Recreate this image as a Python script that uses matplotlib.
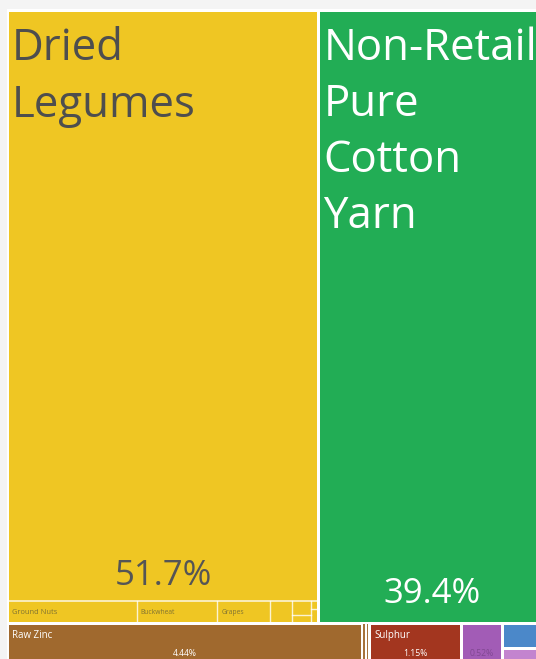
import matplotlib.pyplot as plt
from matplotlib.patches import Rectangle

# shares of total exports (%)
legumes_share = 51.7
yarn_share = 39.4

minor_names = ["Ground Nuts", "Buckwheat", "Grapes", "", "", ""]
minor_shares = [0.83, 0.52, 0.34, 0.14, 0.12, 0.05]
minor_splits = {4: [0.08, 0.04], 5: [0.02, 0.03]}

bottom_names = ["Raw Zinc", "", "", "Sulphur", "", ""]
bottom_shares = [4.44, 0.044, 0.044, 1.15, 0.52, 0.55]
bottom_labels = ["4.44%", "", "", "1.15%", "0.52%", ""]
bottom_splits = {5: [0.31, 0.24]}
bottom_colors = ["#a0692e", "#a6733c", "#a6733c", "#a3361f", "#a25cb6", None]
split_colors = ["#4b88c9", "#c384cf"]

yellow = "#efc623"
green = "#22ad55"
font = "Open Sans"


def slice_row(values, x, y, w, h, horizontal=True):
    # slice-and-dice: split the box along one direction by value
    total = sum(values)
    out = []
    pos = x if horizontal else y
    for v in values:
        size = (w if horizontal else h) * v / total
        if horizontal:
            out.append((pos, y, size, h))
        else:
            out.append((x, pos, w, size))
        pos += size
    return out


def box(ax, r, color, pad=1.5, **kw):
    x, y, w, h = r
    ax.add_patch(Rectangle((x + pad, y + pad), w - 2 * pad, h - 2 * pad,
                           facecolor=color, edgecolor="none", **kw))


fig = plt.figure(figsize=(5.36, 6.59), dpi=100, facecolor="#f4f4f4")
ax = fig.add_axes([0, 0, 1, 1])
ax.set_xlim(0, 536)
ax.set_ylim(659, 0)
ax.axis("off")
ax.add_patch(Rectangle((7, 9), 540, 660, facecolor="white", edgecolor="none"))

# whole map, only part of it is visible
X0, Y0, W, H = 7.5, 10.5, 539, 657
top_total = legumes_share + sum(minor_shares) + yarn_share
bottom_total = sum(bottom_shares)
top_row, bottom_row = slice_row([top_total, bottom_total], X0, Y0, W, H, horizontal=False)

yellow_grp, green_cell = slice_row([legumes_share + sum(minor_shares), yarn_share], *top_row)
legume_cell, minor_strip = slice_row([legumes_share, sum(minor_shares)], *yellow_grp, horizontal=False)

# yellow group
box(ax, yellow_grp, yellow)
gx, gy, gw, gh = yellow_grp
ax.plot([gx + 1.5, gx + gw - 1.5], [minor_strip[1] + 1] * 2, color="white", lw=1.2, alpha=0.8)
minor_cells = slice_row(minor_shares, minor_strip[0], minor_strip[1] + 1, minor_strip[2], minor_strip[3] - 1)
for i, r in enumerate(minor_cells):
    x, y, w, h = r
    if i > 0:
        ax.plot([x, x], [y, y + h - 1.5], color="white", lw=1.0, alpha=0.8)
    if i in minor_splits:
        subs = slice_row(minor_splits[i], x, y, w, h - 1.5, horizontal=False)
        for s in subs[1:]:
            ax.plot([s[0] + 0.5, s[0] + s[2]], [s[1], s[1]], color="white", lw=1.0, alpha=0.8)
    if minor_names[i]:
        ax.text(x + 4, y + h - 9, minor_names[i], fontsize=4.9 if i else 5.4,
                family=font, color="#6e6535", va="baseline", alpha=0.85)

leg_lines = ["Dried", "Legumes"]
for k, t in enumerate(leg_lines):
    ax.text(legume_cell[0] + 4.5, legume_cell[1] + 50 + 56 * k, t, fontsize=31.5,
            family=font, color="#4e4e4e", va="baseline")
ax.text(legume_cell[0] + legume_cell[2] / 2, legume_cell[1] + legume_cell[3] - 15,
        f"{legumes_share}%", fontsize=25, family=font, color="#555555",
        ha="center", va="baseline")

# green cell
box(ax, green_cell, green)
yarn_lines = ["Non-Retail", "Pure", "Cotton", "Yarn"]
for k, t in enumerate(yarn_lines):
    ax.text(green_cell[0] + 5, green_cell[1] + 50 + 56 * k, t, fontsize=31.5,
            family=font, color="white", va="baseline")
ax.text(green_cell[0] + green_cell[2] / 2, green_cell[1] + green_cell[3] - 20,
        f"{yarn_share}%", fontsize=25, family=font, color="white",
        ha="center", va="baseline")

# bottom row
bottom_cells = slice_row(bottom_shares, *bottom_row)
for i, r in enumerate(bottom_cells):
    x, y, w, h = r
    if i in bottom_splits:
        subs = slice_row(bottom_splits[i], x, y, w, h, horizontal=False)
        for s, c in zip(subs, split_colors):
            box(ax, s, c)
    else:
        box(ax, r, bottom_colors[i], pad=1.5 if w > 6 else 1.0)
    if bottom_names[i]:
        ax.text(x + 5, y + 15, bottom_names[i], fontsize=7, family=font,
                color="white", va="baseline")
    if bottom_labels[i]:
        faint = bottom_names[i] == ""
        ax.text(x + w / 2, y + 33, bottom_labels[i], fontsize=6.2, family=font,
                color="#6a3a7a" if faint else "white", alpha=0.6 if faint else 1,
                ha="center", va="baseline")

fig.savefig("out.png", dpi=100, facecolor=fig.get_facecolor())
